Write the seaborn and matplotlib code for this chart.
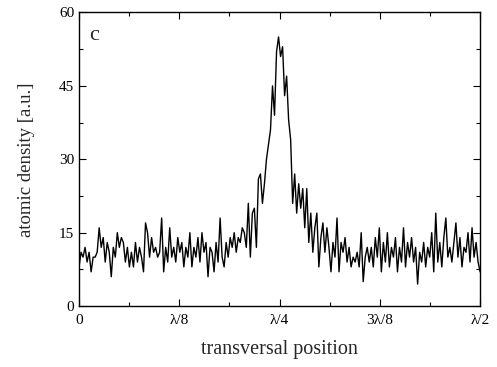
import numpy as np
import pandas as pd
import matplotlib
matplotlib.use("Agg")
import matplotlib.pyplot as plt
from matplotlib.ticker import MultipleLocator
import seaborn as sns

# transversal position in units of lambda (0 .. lambda/2), 200 samples
n_points = 200
position = np.linspace(0.0, 0.5, n_points)

# atomic density, in groups of ten samples
density = [
    8, 11, 10, 12, 9, 11, 7, 10, 10, 11,
    16, 12, 14, 9, 13, 11, 6, 12, 10, 15,
    12, 14, 13, 9, 12, 8, 11, 8, 13, 9,
    12, 10, 7, 17, 15, 10, 14, 11, 12, 10,
    11, 18, 7, 12, 9, 16, 10, 12, 9, 14,
    11, 13, 8, 12, 10, 15, 8, 12, 10, 14,
    9, 15, 11, 13, 6, 12, 11, 7, 13, 9,
    18, 10, 8, 13, 10, 14, 12, 15, 11, 14,
    13, 16, 15, 12, 21, 10, 19, 20, 12, 26,
    27, 21, 25, 30, 33, 36, 45, 39, 52, 55,
    51, 53, 43, 47, 38, 34, 21, 27, 19, 25,
    20, 24, 16, 24, 13, 19, 11, 16, 19, 8,
    14, 17, 11, 16, 12, 7, 13, 10, 18, 7,
    13, 11, 14, 9, 12, 8, 10, 9, 11, 8,
    15, 5, 10, 12, 9, 12, 8, 14, 10, 16,
    7, 13, 9, 15, 8, 12, 10, 14, 7, 12,
    9, 16, 8, 13, 10, 14, 9, 12, 4.5, 11,
    9, 13, 8, 12, 10, 15, 7, 19, 9, 13,
    8, 14, 18, 10, 12, 9, 13, 17, 10, 14,
    8, 12, 11, 15, 9, 16, 10, 13, 9, 7,
]

x_ticks = [0, 0.125, 0.25, 0.375, 0.5]
x_labels = ["0", "λ/8", "λ/4", "3λ/8", "λ/2"]
y_ticks = [0, 15, 30, 45, 60]

df = pd.DataFrame({"position": position, "density": density})

sns.set_style("ticks")
plt.rcParams["font.family"] = ["Liberation Serif", "DejaVu Serif"]

fig = plt.figure(figsize=(4.97, 3.67), dpi=100)
ax = fig.add_axes([0.159, 0.166, 0.807, 0.800])

sns.lineplot(data=df, x="position", y="density", ax=ax, color="black",
             linewidth=1.0)

ax.set_xlim(0, 0.5)
ax.set_ylim(0, 60)
ax.set_xticks(x_ticks)
ax.set_xticklabels(x_labels)
ax.set_yticks(y_ticks)
ax.xaxis.set_minor_locator(MultipleLocator(0.0625))
ax.yaxis.set_minor_locator(MultipleLocator(7.5))
ax.tick_params(which="both", direction="in", top=True, right=True,
               labelsize=11, width=0.8, colors="black")
ax.tick_params(which="major", length=5)
ax.tick_params(which="minor", length=3)
ax.tick_params(axis="x", which="major", pad=6)
for spine in ax.spines.values():
    spine.set_visible(True)
    spine.set_linewidth(1.0)
    spine.set_color("black")

ax.set_xlabel("transversal position", fontsize=14.5, labelpad=9)
ax.set_ylabel("atomic density [a.u.]", fontsize=13.5, labelpad=17)
ax.text(0.025, 0.955, "c", transform=ax.transAxes, fontsize=16,
        va="top", ha="left")

fig.savefig("out.png", dpi=100)
